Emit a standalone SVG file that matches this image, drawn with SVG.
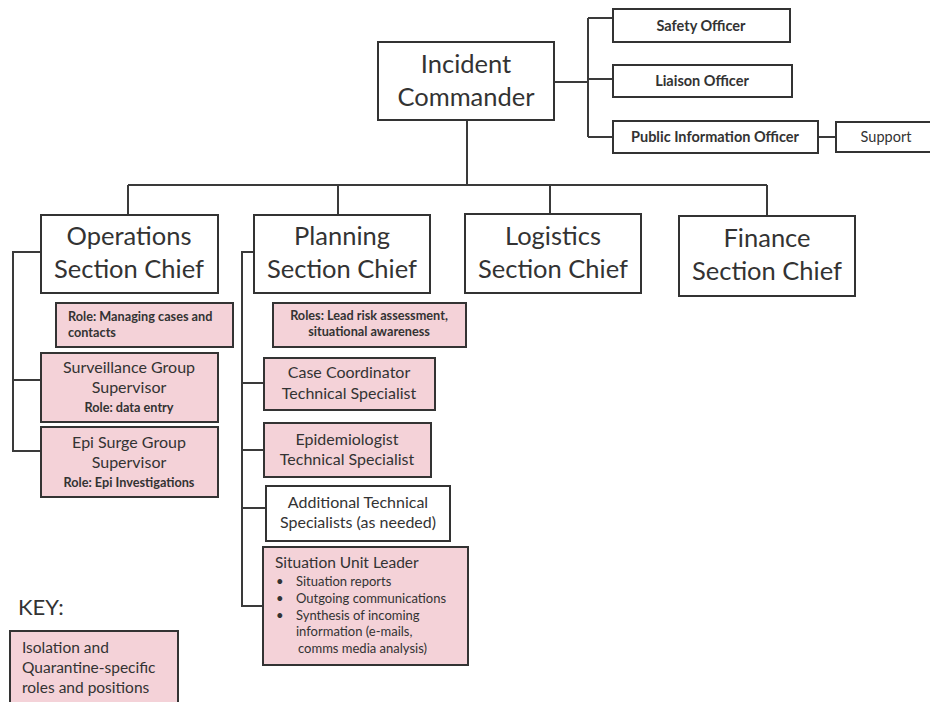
<svg xmlns="http://www.w3.org/2000/svg" width="930" height="702" viewBox="0 0 930 702">
  <style>
    .box { fill: #ffffff; stroke: #333333; stroke-width: 2; }
    .pink { fill: #f4d2d8; stroke: #333333; stroke-width: 2; }
    .wire { fill: none; stroke: #3a3a3a; stroke-width: 2; }
    text { font-family: Lato, "Liberation Sans", sans-serif; fill: #333333; }
    .big { font-size: 25.5px; text-anchor: middle; }
    .off { font-size: 14.5px; font-weight: 700; text-anchor: middle; }
    .mid { font-size: 16px; text-anchor: middle; }
    .note { font-size: 12.7px; font-weight: 700; }
    .c { text-anchor: middle; }
  </style>

  <!-- connectors -->
  <g id="connectors">
    <!-- command staff -->
    <path class="wire" d="M554 82 H588 M588 18 V137 M588 18 H613 M588 79 H613 M588 137 H613 M818 137 H836"/>
    <!-- command to sections -->
    <path class="wire" d="M467 120 V185 M128 185 H767 M128 185 V214 M338 185 V214 M550 185 V214 M767 185 V216"/>
    <!-- operations bracket -->
    <path class="wire" d="M41 252 H13 V451 H41 M13 380 H41"/>
    <!-- planning bracket -->
    <path class="wire" d="M254 252 H242 V606 H263 M242 383 H264 M242 450 H264 M242 508 H266"/>
  </g>

  <g id="incident-commander">
    <rect class="box" x="378" y="42" width="176" height="78"/>
    <text class="big" x="466" y="73">Incident</text>
    <text class="big" x="466" y="106">Commander</text>
  </g>

  <g id="safety-officer">
    <rect class="box" x="613" y="9" width="177" height="33"/>
    <text class="off" x="701" y="31">Safety Officer</text>
  </g>
  <g id="liaison-officer">
    <rect class="box" x="613" y="65" width="179" height="32"/>
    <text class="off" x="702" y="86">Liaison Officer</text>
  </g>
  <g id="public-information-officer">
    <rect class="box" x="613" y="121" width="205" height="32"/>
    <text class="off" x="715" y="142">Public Information Officer</text>
  </g>
  <g id="support">
    <rect class="box" x="836" y="122" width="100" height="30"/>
    <text class="off" x="886" y="142" style="font-weight:400">Support</text>
  </g>

  <g id="operations-section-chief">
    <rect class="box" x="41" y="215" width="177" height="78"/>
    <text class="big" x="129" y="245">Operations</text>
    <text class="big" x="129" y="278">Section Chief</text>
  </g>
  <g id="planning-section-chief">
    <rect class="box" x="254" y="215" width="176" height="78"/>
    <text class="big" x="342" y="245">Planning</text>
    <text class="big" x="342" y="278">Section Chief</text>
  </g>
  <g id="logistics-section-chief">
    <rect class="box" x="465" y="214" width="176" height="79"/>
    <text class="big" x="553" y="245">Logistics</text>
    <text class="big" x="553" y="278">Section Chief</text>
  </g>
  <g id="finance-section-chief">
    <rect class="box" x="679" y="216" width="176" height="80"/>
    <text class="big" x="767" y="247">Finance</text>
    <text class="big" x="767" y="280">Section Chief</text>
  </g>

  <!-- operations branch -->
  <g id="operations-role">
    <rect class="pink" x="56" y="303" width="177" height="44"/>
    <text class="note" x="68" y="321">Role: Managing cases and</text>
    <text class="note" x="68" y="337">contacts</text>
  </g>
  <g id="surveillance-group-supervisor">
    <rect class="pink" x="41" y="353" width="177" height="69"/>
    <text class="mid" x="129" y="373">Surveillance Group</text>
    <text class="mid" x="129" y="393">Supervisor</text>
    <text class="note c" x="129" y="412">Role: data entry</text>
  </g>
  <g id="epi-surge-group-supervisor">
    <rect class="pink" x="41" y="427" width="177" height="70"/>
    <text class="mid" x="129" y="448">Epi Surge Group</text>
    <text class="mid" x="129" y="468">Supervisor</text>
    <text class="note c" x="129" y="487">Role: Epi Investigations</text>
  </g>

  <!-- planning branch -->
  <g id="planning-roles">
    <rect class="pink" x="273" y="303" width="193" height="44"/>
    <text class="note c" x="369" y="320">Roles: Lead risk assessment,</text>
    <text class="note c" x="369" y="336">situational awareness</text>
  </g>
  <g id="case-coordinator">
    <rect class="pink" x="264" y="358" width="171" height="52"/>
    <text class="mid" x="349" y="378">Case Coordinator</text>
    <text class="mid" x="349" y="399">Technical Specialist</text>
  </g>
  <g id="epidemiologist">
    <rect class="pink" x="264" y="423" width="167" height="54"/>
    <text class="mid" x="347" y="445">Epidemiologist</text>
    <text class="mid" x="347" y="465">Technical Specialist</text>
  </g>
  <g id="additional-technical-specialists">
    <rect class="box" x="266" y="486" width="184" height="55"/>
    <text class="mid" x="358" y="508">Additional Technical</text>
    <text class="mid" x="358" y="528">Specialists (as needed)</text>
  </g>
  <g id="situation-unit-leader">
    <rect class="pink" x="263" y="547" width="205" height="118"/>
    <text x="275" y="568" style="font-size:15.5px">Situation Unit Leader</text>
    <g style="font-size:13px">
      <text x="276" y="586">•</text>
      <text x="296" y="586">Situation reports</text>
      <text x="276" y="603">•</text>
      <text x="296" y="603">Outgoing communications</text>
      <text x="276" y="620">•</text>
      <text x="296" y="620">Synthesis of incoming</text>
      <text x="296" y="636">information (e-mails,</text>
      <text x="298" y="653">comms media analysis)</text>
    </g>
  </g>

  <!-- legend -->
  <g id="key">
    <text x="18" y="615" style="font-size:22px">KEY:</text>
    <rect class="pink" x="10" y="631" width="168" height="80"/>
    <text x="22" y="653" style="font-size:15.5px">Isolation and</text>
    <text x="22" y="673" style="font-size:15.5px">Quarantine-specific</text>
    <text x="22" y="693" style="font-size:15.5px">roles and positions</text>
  </g>
</svg>
